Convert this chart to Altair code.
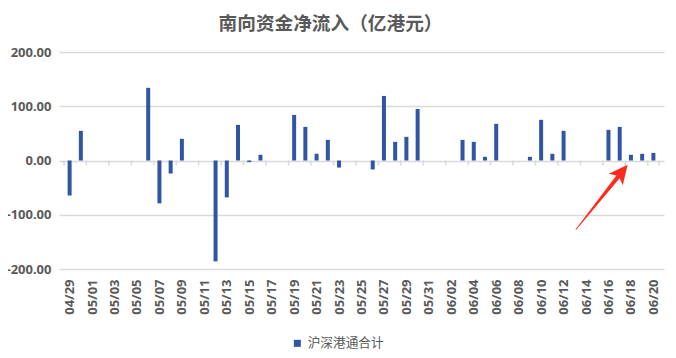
import altair as alt
import pandas as pd

YEAR = 2025
SERIES = "沪深港通合计"
TITLE = "南向资金净流入（亿港元）"

# trading days (MM/DD) and net southbound inflow (亿港元)
dates = ["04/29", "04/30", "05/06", "05/07", "05/08", "05/09",
         "05/12", "05/13", "05/14", "05/15", "05/16",
         "05/19", "05/20", "05/21", "05/22", "05/23",
         "05/26", "05/27", "05/28", "05/29", "05/30",
         "06/03", "06/04", "06/05", "06/06",
         "06/09", "06/10", "06/11", "06/12",
         "06/16", "06/17", "06/18", "06/19", "06/20"]
values = [-64.5, 54.7, 134, -79, -24, 40,
          -186, -68, 65.7, -3, 10.5,
          84, 62, 12.3, 38, -13,
          -16.5, 119, 34.4, 43.6, 95,
          38, 34.4, 6.8, 67.6,
          6.8, 75, 12.3, 54.7,
          56.5, 62, 10.5, 12.3, 14]

# x-axis labels (every second calendar day)
x_labels = ["04/29", "05/01", "05/03", "05/05", "05/07", "05/09", "05/11",
            "05/13", "05/15", "05/17", "05/19", "05/21", "05/23", "05/25",
            "05/27", "05/29", "05/31", "06/02", "06/04", "06/06", "06/08",
            "06/10", "06/12", "06/14", "06/16", "06/18", "06/20"]
y_ticks = [-200, -100, 0, 100, 200]

# red annotation arrow (tail -> tip), anchored in data coordinates
arrow_dates = ["2025-06-13T02:30:00Z", "2025-06-17T01:00:00Z"]
arrow_values = [-127, -25]
arrow_widths = [0.8, 4.5]
arrow_tip_date = "2025-06-17T17:00:00Z"
arrow_tip_value = -8

BAR = "#2F55A3"
GRID = "#D9D9D9"
TXT = "#595959"
RED = "#FF2A1F"


def iso(md):
    m, d = md.split("/")
    return f"{YEAR}-{m}-{d}"


def dt(md, hours=0):
    m, d = md.split("/")
    return alt.DateTime(year=YEAR, month=int(m), date=int(d), hours=hours, utc=True)


bars_df = pd.DataFrame({"date": [iso(d) for d in dates], "value": values, "series": SERIES})

tick_list = [(pd.Timestamp(iso(d)) - pd.Timedelta(hours=12)).strftime("%Y-%m-%dT%H:%M:%SZ") for d in x_labels]
tick_list.append((pd.Timestamp(iso(x_labels[-1])) + pd.Timedelta(hours=12)).strftime("%Y-%m-%dT%H:%M:%SZ"))
ticks_df = pd.DataFrame({"date": tick_list})

arrow_df = pd.DataFrame({"date": arrow_dates, "value": arrow_values, "w": arrow_widths})
head_df = pd.DataFrame({"date": [arrow_tip_date], "value": [arrow_tip_value]})

x_scale = alt.Scale(type="utc", domain=[dt("04/28", 12), dt("06/20", 12)])
x_axis = alt.Axis(values=[dt(d) for d in x_labels],
                  labelExpr="utcFormat(datum.value, '%m/%d')",
                  labelAngle=-90, labelFontSize=13, labelFontWeight="bold",
                  labelColor=TXT, labelFont="Noto Sans", labelPadding=10,
                  domain=False, ticks=False, grid=False)
x_enc = alt.X("date:T", scale=x_scale, axis=x_axis, title=None)

y_scale = alt.Scale(domain=[-200, 200], nice=False)
y_axis = alt.Axis(values=y_ticks,
                  labelExpr="(datum.value < 0 ? '-' : '') + format(abs(datum.value), '.2f')",
                  labelFontSize=13, labelFontWeight="bold",
                  labelColor=TXT, labelFont="Noto Sans", labelPadding=8,
                  domain=False, ticks=False, grid=True, gridColor=GRID, gridWidth=1.5)
y_enc = alt.Y("value:Q", scale=y_scale, axis=y_axis, title=None)

bars = alt.Chart(bars_df).mark_bar(size=4).encode(
    x=x_enc,
    y=y_enc,
    color=alt.Color("series:N", scale=alt.Scale(range=[BAR]),
                    legend=alt.Legend(title=None, orient="none", legendX=232, legendY=285,
                                      symbolType="square", symbolSize=49, padding=0,
                                      labelFont="Noto Sans CJK SC", labelFontSize=12.67,
                                      labelColor=TXT)),
)

tick_rules = alt.Chart(ticks_df).mark_rule(color=GRID, strokeWidth=1.5).encode(
    x=x_enc,
    y=alt.datum(0),
    y2=alt.datum(-9),
)

trail = alt.Chart(arrow_df).mark_trail(color=RED).encode(
    x=x_enc,
    y=y_enc,
    size=alt.Size("w:Q", scale=None, legend=None),
)

head = alt.Chart(head_df).mark_point(
    shape="M0,0L-0.5,1.05L0,0.8L0.5,1.05Z", filled=True, size=1296,
    angle=39, color=RED, opacity=1, strokeWidth=0,
).encode(x=x_enc, y=y_enc)

chart = alt.layer(bars, tick_rules, trail, head).properties(
    width=605,
    height=217,
    autosize="none",
    padding={"left": 51, "top": 44, "right": 4, "bottom": 81},
    title=alt.Title(TITLE, font="Noto Sans CJK SC", fontSize=18.67, fontWeight="bold",
                    color=TXT, anchor="middle", dx=-31, offset=12),
).configure_view(stroke=None)

chart.save("out.html", embed_options={"renderer": "svg", "actions": False})
